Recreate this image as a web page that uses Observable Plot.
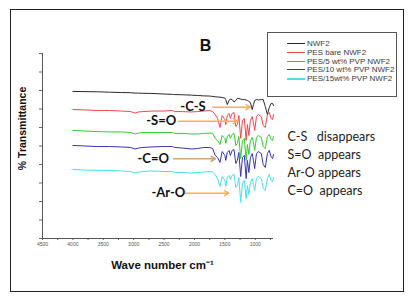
<!DOCTYPE html>
<html>
<head>
<meta charset="utf-8">
<script src="https://cdn.jsdelivr.net/npm/d3@7"></script>
<script src="https://cdn.jsdelivr.net/npm/@observablehq/plot@0.6"></script>
<style>
  html, body { margin: 0; padding: 0; background: #fff; }
  #wrap { position: relative; width: 410px; height: 300px; overflow: hidden; }
  #frame { position: absolute; left: 10px; top: 9px; width: 394px; height: 283px; border: 1px solid #222; box-sizing: border-box; }
  #legend { position: absolute; left: 267px; top: 32px; width: 130px; height: 65px; border: 1px solid #555; box-sizing: border-box; background: #fff;
            font-family: "Liberation Sans", Arial, sans-serif; font-size: 8px; color: #3a3a3a; }
  .row { position: absolute; left: 0; height: 9px; line-height: 9px; white-space: nowrap; }
  .sw { position: absolute; left: 19px; top: 4px; width: 18px; height: 1px; }
  .lab { position: absolute; left: 39px; top: 0; }
  svg text { white-space: pre; }
</style>
</head>
<body>
<div id="wrap"><div id="frame"></div><div id="chart"></div><div id="legend"></div></div>
<script>
const wavenumbers = [4000,3800,3600,3400,3200,3050,2980,2920,2850,2700,2500,2360,2330,2200,2050,1950,1850,1750,1700,1660,1620,1580,1545,1500,1485,1460,1430,1410,1380,1350,1320,1295,1270,1240,1210,1180,1150,1130,1105,1080,1050,1030,1010,980,950,900,870,835,800,770,740,715,700];

const seriesNames = ["NWF2", "PES bare NWF2", "PES/5 wt% PVP NWF2", "PES/10 wt% PVP NWF2", "PES/15wt% PVP NWF2"];
const seriesColors = ["#2a2a2a", "#f0474e", "#2ccf2c", "#3434b4", "#48e0ea"];

const nwf2 = [79.5,79.4,79.3,79.1,78.9, 78.8,78.6,78.6,78.5,78.4, 78.1,77.9,77.8,77.7,77.5, 77.3,77.1,77.0,76.8,76.6, 76.5,76.4,76.2,75.9,75.1, 72.4,74.6,75.4,75.1,73.8, 74.6,75.7,75.7,75.4,75.1, 75.1,74.9,74.6,74.1,73.5, 69.7,72.4,74.6,75.1,74.9, 75.1,75.1,71.4,67.0,70.8, 73.0,73.0,71.9];
const pesBare = [69.7,69.5,69.2,69.2,68.9, 68.6,67.8,68.4,68.6,68.9, 68.9,69.2,68.6,68.6,68.4, 68.6,68.9,69.2,68.6,67.0, 64.9,60.0,66.5,64.3,61.6, 66.5,67.6,64.9,67.6,68.1, 60.5,61.6,66.5,54.1,63.8, 64.9,53.0,61.6,55.7,63.8, 65.9,62.7,58.4,65.9,67.0, 65.9,61.1,60.0,67.0,68.1, 64.9,64.3,67.0];
const pvp5 = [58.4,58.1,57.8,57.6,57.6, 57.3,56.5,57.0,57.3,57.3, 57.3,57.3,56.8,56.8,56.5, 56.5,56.8,57.0,56.8,54.1, 53.0,50.8,55.7,54.1,51.4, 55.1,56.2,54.1,56.2,56.8, 50.3,51.4,55.1,43.2,53.0, 54.1,42.2,50.8,45.4,53.0, 54.6,51.9,47.6,54.6,55.7, 54.6,49.7,48.6,55.1,56.2, 53.5,53.0,55.1];
const pvp10 = [50.3,50.0,49.7,49.7,49.5, 49.2,48.4,48.9,49.2,49.5, 49.7,49.7,49.2,48.9,48.4, 48.6,49.2,49.2,48.6,44.9, 43.8,41.1,47.0,44.9,42.2, 46.5,47.6,44.9,47.6,48.1, 40.5,42.2,46.5,33.5,43.8, 44.9,32.4,42.2,35.7,43.8, 45.9,42.2,37.8,45.9,47.0, 45.9,40.0,38.4,45.9,47.6, 44.3,43.2,45.4];
const pvp15 = [37.3,37.0,36.8,36.8,36.5, 36.2,35.4,35.9,36.2,36.5, 36.2,36.2,35.7,35.7,35.4, 35.7,35.9,36.2,35.9,34.6, 32.4,28.1,33.5,31.4,28.1, 33.0,34.1,31.9,34.1,34.6, 27.6,28.6,33.0,19.5,29.7, 31.4,21.6,28.6,23.8,30.3, 32.4,29.2,25.9,32.4,33.5, 32.4,27.0,25.9,32.4,34.6, 31.4,30.8,33.0];

const xTicks = [4500,4000,3500,3000,2500,2000,1500,1000];
const xMinorTicks = [4250,3750,3250,2750,2250,1750,1250,750];
const yTicks = [0,10,20,30,40,50,60,70,80,90,100];

// arrow annotations (data coordinates)
const arrowLabels = ["-C-S", "-S=O", "-C=O", "-Ar-O"];
const arrowX1 = [1700, 2260, 2345, 2148];
const arrowX2 = [1080, 1290, 1655, 1435];
const arrowY = [71.0, 63.4, 43.1, 24.5];
const labelX = [1815, 2300, 2420, 2150];
const arrowColors = ["#f3b163", "#f3b163", "#cfa76e", "#f3b163"];

const noteLines = ["C-S\u00a0\u00a0\u00a0disappears", "S=O\u00a0\u00a0appears", "Ar-O appears", "C=O\u00a0\u00a0appears"];
const noteY = [54.8, 44.9, 35.3, 25.6];
const noteX = 470;

const allSeries = [nwf2, pesBare, pvp5, pvp10, pvp15];
const table = allSeries.flatMap((vals, i) => vals.map((v, j) => ({w: wavenumbers[j], v, series: seriesNames[i]})));
const arrows = arrowLabels.map((t, i) => ({t, x1: arrowX1[i], x2: arrowX2[i], y: arrowY[i], lx: labelX[i], c: arrowColors[i]}));
const notes = noteLines.map((t, i) => ({t, x: noteX, y: noteY[i]}));

const chart = Plot.plot({
  width: 410, height: 300,
  marginLeft: 42, marginRight: 137, marginTop: 53, marginBottom: 62,
  style: {fontFamily: "'Liberation Sans', Arial, sans-serif", overflow: "visible", background: "transparent"},
  x: {domain: [4500, 700]},
  y: {domain: [0, 100]},
  color: {domain: seriesNames, range: seriesColors},
  marks: [
    Plot.axisX({ticks: xTicks, tickSize: 2, tickPadding: 2, fontSize: 5, tickFormat: d => String(d), stroke: "#666", color: "#555", label: null}),
    Plot.axisX({ticks: xMinorTicks, tickSize: 2, tickFormat: () => "", stroke: "#666", label: null}),
    Plot.axisY({ticks: yTicks, tickSize: 3, tickFormat: () => "", stroke: "#666", label: null}),
    Plot.ruleX([4500], {stroke: "#555"}),
    Plot.ruleY([0], {stroke: "#555"}),
    Plot.line(table, {x: "w", y: "v", z: "series", stroke: "series", strokeWidth: 1}),
    Plot.arrow(arrows, {x1: "x1", x2: "x2", y1: "y", y2: "y", stroke: "c", strokeWidth: 1.5, headLength: 5, bend: 0}),
    Plot.text(arrows, {x: "lx", y: "y", text: "t", textAnchor: "end", fontSize: 13, fontWeight: "bold", fill: "#111", fontFamily: "Lato, 'Open Sans', sans-serif"}),
    Plot.text(notes, {x: "x", y: "y", text: "t", textAnchor: "start", fontSize: 12.5, fill: "#222", fontFamily: "Lato, 'Open Sans', sans-serif"}),
    Plot.text(["B"], {x: 1819, y: 104.3, text: d => d, fontSize: 16, fontWeight: "bold", fill: "#111"}),
    Plot.text(["% Transmittance"], {x: 4829, y: 59.5, text: d => d, rotate: -90, fontSize: 10.5, fontWeight: "bold", fill: "#111"}),
    Plot.text(["Wave number cm\u207B\u00B9"], {x: 2526, y: -14.6, text: d => d, fontSize: 11.5, fontWeight: "bold", fill: "#111"})
  ]
});
document.getElementById("chart").appendChild(chart);

const legend = document.getElementById("legend");
const rowTops = [6, 15, 23.5, 32, 41];
seriesNames.forEach((name, i) => {
  const row = document.createElement("div");
  row.className = "row";
  row.style.top = rowTops[i] + "px";
  const sw = document.createElement("div");
  sw.className = "sw";
  sw.style.background = seriesColors[i];
  if (i === 4) { sw.style.height = "2px"; sw.style.top = "3.5px"; }
  const lab = document.createElement("div");
  lab.className = "lab";
  lab.textContent = name;
  row.appendChild(sw); row.appendChild(lab);
  legend.appendChild(row);
});
</script>
</body>
</html>
